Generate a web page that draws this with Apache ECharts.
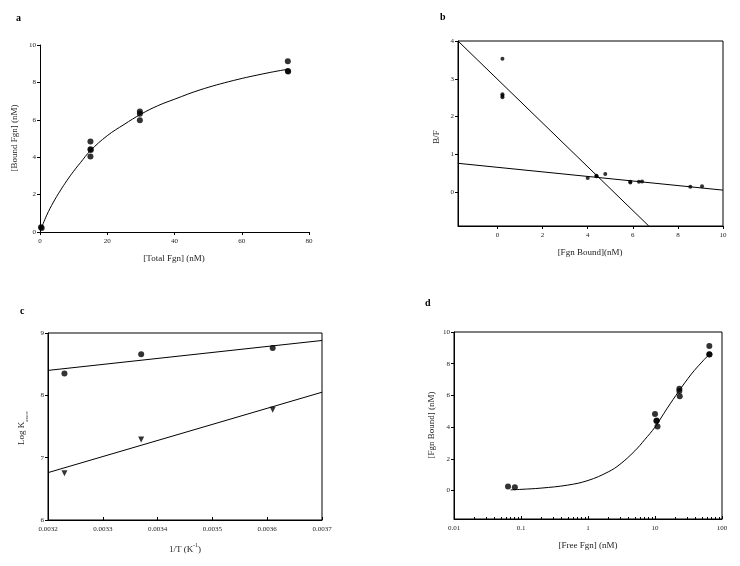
<!DOCTYPE html>
<html><head><meta charset="utf-8">
<script src="https://cdn.jsdelivr.net/npm/echarts@6/dist/echarts.min.js"></script>
<style>html,body{margin:0;padding:0;background:#fff}#c{width:740px;height:566px}</style>
</head><body><div id="c"></div>
<script>
// ---- data ----
const aPoints = [[0.3,0.25],[0.5,0.22],[15,4.84],[15,4.43],[15.1,4.38],[15,4.04],[29.7,6.44],[29.7,6.33],[29.7,5.98],[73.7,9.13],[73.7,8.61],[73.8,8.58]];
const aCurve = [[0.4,0.2],[2,0.9],[4,1.6],[6,2.2],[8,2.75],[10,3.25],[12,3.7],[15,4.35],[20,5.15],[25,5.75],[30,6.3],[35,6.75],[40,7.1],[47.6,7.6],[57.5,8.1],[67.5,8.5],[73.6,8.7]];
const bPoints = [[0.22,3.53],[0.22,2.59],[0.22,2.55],[0.22,2.51],[4.0,0.37],[4.38,0.43],[4.4,0.42],[4.78,0.48],[5.89,0.25],[5.89,0.27],[6.27,0.27],[6.41,0.28],[8.55,0.14],[9.07,0.15]];
const bLineSteep = [[-1.75,4.0],[6.71,-0.9]];
const bLineShallow = [[-1.75,0.76],[10,0.05]];
const cCircles = [[0.00323,8.35],[0.00337,8.66],[0.00361,8.76]];
const cTriangles = [[0.00323,6.75],[0.00337,7.29],[0.00361,7.77]];
const cLineUpper = [[0.0032,8.40],[0.0037,8.88]];
const cLineLower = [[0.0032,6.76],[0.0037,8.05]];
const dPoints = [[0.064,0.25],[0.081,0.21],[10,4.82],[10.6,4.42],[10.5,4.38],[10.9,4.04],[23.1,6.42],[23.1,6.27],[23.4,5.94],[64.7,9.12],[64.7,8.59],[65,8.58]];
const dCurve = [[0.07,0.04],[0.1,0.07],[0.2,0.15],[0.5,0.34],[1,0.63],[2,1.17],[3,1.65],[5,2.5],[7,3.2],[10,4.0],[15,5.15],[23,6.3],[35,7.35],[50,8.1],[65,8.6]];

const aXTicks = [0,20,40,60,80];
const aYTicks = [0,2,4,6,8,10];
const bXTicks = [0,2,4,6,8,10];
const bYTicks = [0,1,2,3,4];
const cXTicks = [0.0032,0.0033,0.0034,0.0035,0.0036,0.0037];
const cYTicks = [6,7,8,9];
const dXTicks = [0.01,0.1,1,10,100];
const dXMinor = [0.02,0.03,0.04,0.05,0.06,0.07,0.08,0.09,0.2,0.3,0.4,0.5,0.6,0.7,0.8,0.9,2,3,4,5,6,7,8,9,20,30,40,50,60,70,80,90];
const dYTicks = [0,2,4,6,8,10];

// ---- styling ----
const FONT = '"Liberation Serif","Times New Roman",serif';
const lab = {fontFamily: FONT, fontSize: 7, color: '#222'};

function axis(gi, type, min, max, ticks, opts) {
  opts = opts || {};
  const isX = opts.isX;
  return Object.assign({
    gridIndex: gi, type: type, min: min, max: max,
    position: isX ? 'bottom' : 'left',
    axisLine: {show: true, onZero: false, lineStyle: {color: '#000', width: 1}},
    axisTick: {show: true, inside: !!opts.tickInside, length: 3, customValues: ticks, lineStyle: {color: '#000'}},
    axisLabel: Object.assign({show: true, customValues: ticks, margin: isX ? 6 : 4, formatter: opts.fmt}, lab),
    splitLine: {show: false},
    minorTick: {show: false}
  }, opts.extra || {});
}

const chart = echarts.init(document.getElementById('c'), null, {renderer: 'canvas'});

const option = {
  animation: false,
  backgroundColor: '#fff',
  grid: [
    {left: 40, top: 45, width: 269, height: 187, show: false},
    {left: 458, top: 41, width: 265, height: 185, show: true, borderColor: '#000', borderWidth: 1, backgroundColor: 'transparent'},
    {left: 48, top: 333, width: 274, height: 187, show: true, borderColor: '#000', borderWidth: 1, backgroundColor: 'transparent'},
    {left: 454, top: 332, width: 268, height: 187, show: true, borderColor: '#000', borderWidth: 1, backgroundColor: 'transparent'}
  ],
  xAxis: [
    axis(0, 'value', 0, 80, aXTicks, {isX: true}),
    axis(1, 'value', -1.75, 10, bXTicks, {isX: true}),
    axis(2, 'value', 0.0032, 0.0037, cXTicks, {isX: true, tickInside: true, fmt: v => Number(v).toFixed(4)}),
    axis(3, 'log', 0.01, 100, dXTicks, {isX: true, tickInside: true, extra: {logBase: 10}}),
    {gridIndex: 3, type: 'log', min: 0.01, max: 100, logBase: 10, position: 'bottom',
      axisLine: {show: false, onZero: false}, axisLabel: {show: false}, splitLine: {show: false},
      axisTick: {show: true, inside: true, length: 2, customValues: dXMinor, lineStyle: {color: '#000'}}}
  ],
  yAxis: [
    axis(0, 'value', 0, 10, aYTicks),
    axis(1, 'value', -0.9, 4, bYTicks),
    axis(2, 'value', 6, 9, cYTicks),
    axis(3, 'value', -1.8, 10, dYTicks)
  ],
  series: [
    {type: 'line', xAxisIndex: 0, yAxisIndex: 0, data: aCurve, smooth: 0.4, showSymbol: false, lineStyle: {color: '#000', width: 1}, z: 2},
    {type: 'scatter', xAxisIndex: 0, yAxisIndex: 0, data: aPoints, symbol: 'circle', symbolSize: 6, itemStyle: {color: '#000'}, z: 3},

    {type: 'line', xAxisIndex: 1, yAxisIndex: 1, data: bLineSteep, showSymbol: false, lineStyle: {color: '#000', width: 1}},
    {type: 'line', xAxisIndex: 1, yAxisIndex: 1, data: bLineShallow, showSymbol: false, lineStyle: {color: '#000', width: 1}},
    {type: 'scatter', xAxisIndex: 1, yAxisIndex: 1, data: bPoints, symbol: 'circle', symbolSize: 4, itemStyle: {color: '#000'}},

    {type: 'line', xAxisIndex: 2, yAxisIndex: 2, data: cLineUpper, showSymbol: false, lineStyle: {color: '#000', width: 1}},
    {type: 'line', xAxisIndex: 2, yAxisIndex: 2, data: cLineLower, showSymbol: false, lineStyle: {color: '#000', width: 1}},
    {type: 'scatter', xAxisIndex: 2, yAxisIndex: 2, data: cCircles, symbol: 'circle', symbolSize: 6, itemStyle: {color: '#000'}},
    {type: 'scatter', xAxisIndex: 2, yAxisIndex: 2, data: cTriangles, symbol: 'triangle', symbolRotate: 180, symbolSize: 6, itemStyle: {color: '#000'}},

    {type: 'line', xAxisIndex: 3, yAxisIndex: 3, data: dCurve, smooth: 0.4, showSymbol: false, lineStyle: {color: '#000', width: 1}},
    {type: 'scatter', xAxisIndex: 3, yAxisIndex: 3, data: dPoints, symbol: 'circle', symbolSize: 6, itemStyle: {color: '#000'}}
  ],
  graphic: [
    // panel letters
    {type: 'text', left: 16, top: 13, style: {text: 'a', fontFamily: FONT, fontWeight: 'bold', fontSize: 10, fill: '#000'}},
    {type: 'text', left: 440, top: 12, style: {text: 'b', fontFamily: FONT, fontWeight: 'bold', fontSize: 10, fill: '#000'}},
    {type: 'text', left: 20, top: 306, style: {text: 'c', fontFamily: FONT, fontWeight: 'bold', fontSize: 10, fill: '#000'}},
    {type: 'text', left: 425, top: 298, style: {text: 'd', fontFamily: FONT, fontWeight: 'bold', fontSize: 10, fill: '#000'}},
    // axis titles
    {type: 'text', x: 174, y: 259, style: {text: '[Total Fgn] (nM)', fontFamily: FONT, fontSize: 9, fill: '#222', align: 'center', verticalAlign: 'middle'}},
    {type: 'text', x: 15, y: 138, rotation: Math.PI/2, style: {text: '[Bound Fgn] (nM)', fontFamily: FONT, fontSize: 9, fill: '#222', align: 'center', verticalAlign: 'middle'}},
    {type: 'text', x: 590, y: 253, style: {text: '[Fgn Bound](nM)', fontFamily: FONT, fontSize: 9, fill: '#222', align: 'center', verticalAlign: 'middle'}},
    {type: 'text', x: 437, y: 137, rotation: Math.PI/2, style: {text: 'B/F', fontFamily: FONT, fontSize: 9, fill: '#222', align: 'center', verticalAlign: 'middle'}},
    {type: 'text', x: 185, y: 548, style: {
      text: '{n|1/T (K}{s|-1}{n|)}', fontFamily: FONT, align: 'center', verticalAlign: 'middle',
      rich: {n: {fontFamily: FONT, fontSize: 9, fill: '#222', lineHeight: 12, verticalAlign: 'bottom'}, s: {fontFamily: FONT, fontSize: 6, fill: '#222', lineHeight: 12, verticalAlign: 'top'}}}},
    {type: 'text', x: 23, y: 428, rotation: Math.PI/2, style: {
      text: '{n|Log K}{s|assoc}', fontFamily: FONT, align: 'center', verticalAlign: 'middle',
      rich: {n: {fontFamily: FONT, fontSize: 9, fill: '#222', lineHeight: 12, verticalAlign: 'top'}, s: {fontFamily: FONT, fontSize: 5, fill: '#222', lineHeight: 12, verticalAlign: 'bottom'}}}},
    {type: 'text', x: 588, y: 546, style: {text: '[Free Fgn] (nM)', fontFamily: FONT, fontSize: 9, fill: '#222', align: 'center', verticalAlign: 'middle'}},
    {type: 'text', x: 432, y: 425, rotation: Math.PI/2, style: {text: '[Fgn Bound] (nM)', fontFamily: FONT, fontSize: 9, fill: '#222', align: 'center', verticalAlign: 'middle'}}
  ]
};
chart.setOption(option);
</script>
</body></html>
